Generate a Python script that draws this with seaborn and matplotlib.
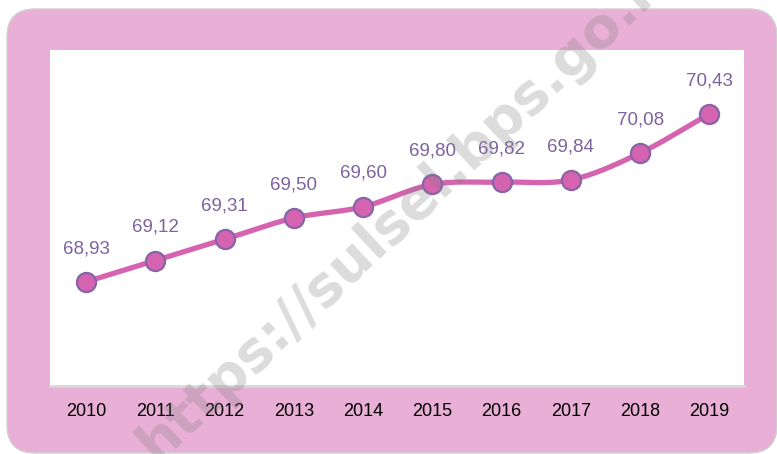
import numpy as np
import pandas as pd
import matplotlib
matplotlib.use('Agg')
import matplotlib.pyplot as plt
from matplotlib.patches import FancyBboxPatch
import seaborn as sns

years = ['2010', '2011', '2012', '2013', '2014', '2015', '2016', '2017', '2018', '2019']
values = [68.93, 69.12, 69.31, 69.50, 69.60, 69.80, 69.82, 69.84, 70.08, 70.43]
watermark = 'https://sulsel.bps.go.id'

PINK_BG = '#E9AFD6'
LINE = '#D663B0'
EDGE = '#8764A8'
LABEL = '#7D62A0'


def smooth_curve(x, y, steps=30):
    # Catmull-Rom style smoothing, similar to a "smoothed line" in spreadsheets
    x = np.asarray(x, float)
    y = np.asarray(y, float)
    px = np.concatenate([[2 * x[0] - x[1]], x, [2 * x[-1] - x[-2]]])
    py = np.concatenate([[2 * y[0] - y[1]], y, [2 * y[-1] - y[-2]]])
    xs, ys = [], []
    t = np.linspace(0, 1, steps)
    for i in range(1, len(px) - 2):
        for p, out in ((px, xs), (py, ys)):
            p0, p1, p2, p3 = p[i - 1], p[i], p[i + 1], p[i + 2]
            c = 0.5 * ((2 * p1) + (-p0 + p2) * t + (2 * p0 - 5 * p1 + 4 * p2 - p3) * t ** 2
                       + (-p0 + 3 * p1 - 3 * p2 + p3) * t ** 3)
            out.extend(c)
    return np.array(xs), np.array(ys)


df = pd.DataFrame({'year': years, 'value': values})
df['pos'] = np.arange(len(df))

sns.set_theme(style='white')
plt.rcParams['font.family'] = ['Liberation Sans', 'DejaVu Sans']

fig = plt.figure(figsize=(7.77, 4.54), dpi=100)
fig.patch.set_facecolor('white')

# pink rounded card behind everything
bg = fig.add_axes([0, 0, 1, 1], zorder=0)
bg.set_xlim(0, 777)
bg.set_ylim(454, 0)
bg.axis('off')
bg.add_patch(FancyBboxPatch((7, 9), 770, 444, boxstyle='round,pad=0,rounding_size=28',
                            facecolor=PINK_BG, edgecolor='#d0d0d0', lw=1.0))

ax = fig.add_axes([50 / 777, 1 - 386 / 454, 694 / 777, 336 / 454], zorder=1)
ax.set_facecolor('white')

sx, sy = smooth_curve(df['pos'], df['value'])
sns.lineplot(x=sx, y=sy, ax=ax, color=LINE, linewidth=3.8, sort=False, zorder=2)
sns.scatterplot(data=df, x='pos', y='value', ax=ax, s=190, color=LINE,
                edgecolor=EDGE, linewidth=1.6, zorder=3)

for _, r in df.iterrows():
    ax.annotate(f"{r['value']:.2f}".replace('.', ','), (r['pos'], r['value']),
                xytext=(0, 24), textcoords='offset points', ha='center', va='center',
                fontsize=13.5, color=LABEL)

ax.set_xlim(-0.52, 9.5)
ax.set_ylim(68.0, 71.0)
ax.set_xticks(df['pos'])
ax.set_xticklabels(df['year'])
ax.set_yticks([])
ax.set_xlabel('')
ax.set_ylabel('')
ax.tick_params(axis='x', length=0, pad=12, labelsize=13, labelcolor='black')
for side in ['top', 'left', 'right']:
    ax.spines[side].set_visible(False)
ax.spines['bottom'].set_color('#d8d8d8')
ax.spines['bottom'].set_linewidth(2)

# diagonal site watermark, partly running off the picture as in the original
fig.text(0.527, 0.545, watermark, rotation=43, rotation_mode='anchor',
         ha='center', va='center', fontsize=40, fontweight='bold',
         family='DejaVu Sans', color='#808080', alpha=0.28, zorder=5)

plt.savefig('out.png', dpi=100)
plt.close()
